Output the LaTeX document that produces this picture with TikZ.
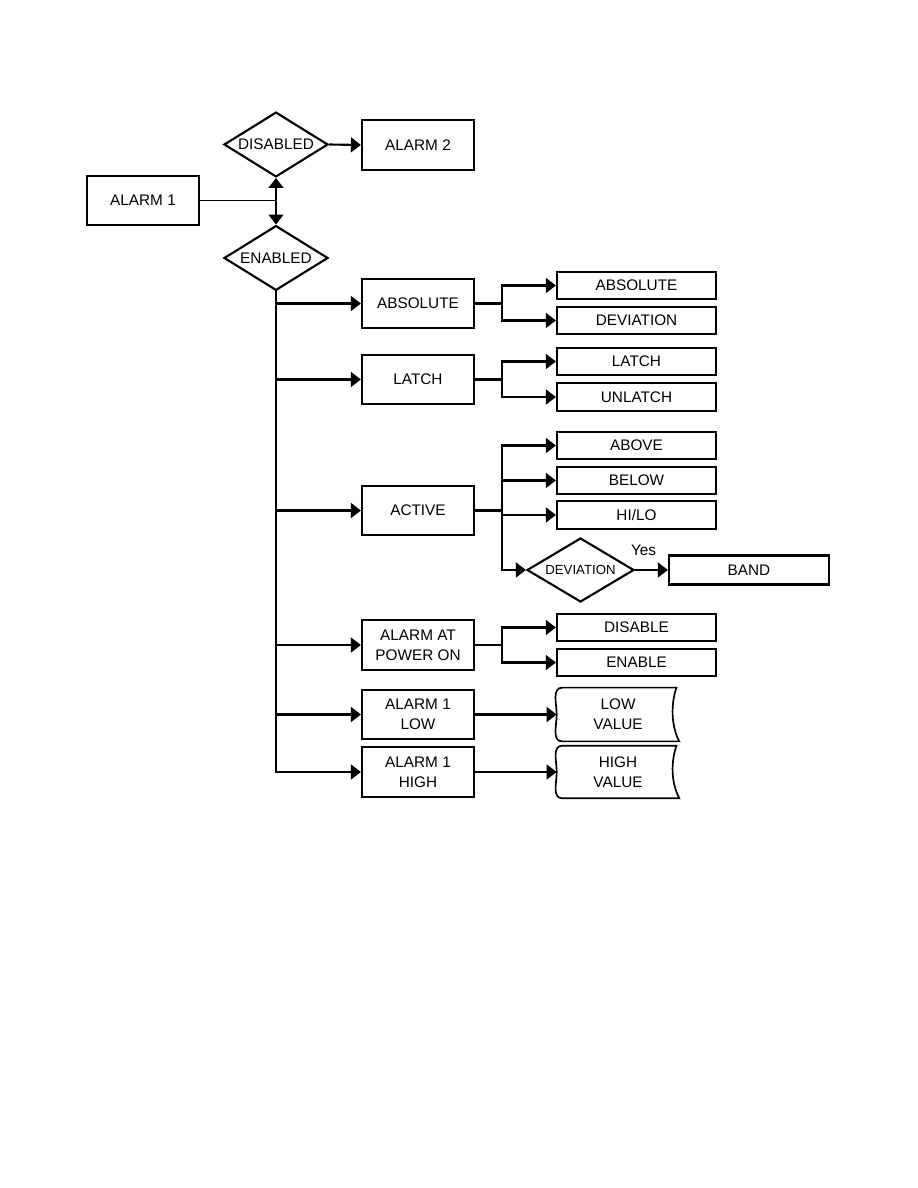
\documentclass[tikz,border=0pt]{standalone}
\usepackage{fontspec}
\setmainfont{Liberation Sans}
\usetikzlibrary{shapes.geometric,arrows.meta}

\begin{document}
\begin{tikzpicture}[x=0.025cm, y=-0.025cm,
    font=\fontsize{10.9}{14}\selectfont,
    box/.style={draw, line width=1.5pt, minimum width=2.8cm, minimum height=1.24cm, inner sep=0pt, align=center},
    opt/.style={draw, line width=1.5pt, minimum width=3.975cm, minimum height=0.69cm, inner sep=0pt},
    dia/.style={draw, diamond, aspect=1.6, line width=1.5pt, inner sep=0pt, minimum width=2.6cm, minimum height=1.62cm},
    store/.style={minimum width=3.05cm, minimum height=1.33cm, inner sep=0pt, align=center},
    arr/.style={line width=1.5pt, -{Triangle[length=2.5mm, width=3.7mm]}}]
    \useasboundingbox (0,0) rectangle (918,1188);

    % top part
    \node[box] (alarm1) at (143,200.5) {ALARM 1};
    \node[dia] (disabled) at (276,144.5) {DISABLED};
    \node[dia] (enabled) at (276,258) {ENABLED};
    \node[box] (alarm2) at (418,145) {ALARM 2};
    \coordinate (jn) at (alarm1.east -| disabled.south);
    \draw[line width=0.6pt] (alarm1.east) -- (jn);
    \draw[arr] (jn) -- (disabled.south);
    \draw[arr] (jn) -- (enabled.north);
    \draw[arr] (disabled.east) -- (alarm2.west);

    % second column
    \node[box] (absmode) at (418,303.5) {ABSOLUTE};
    \node[box] (latchmode) at (418,379.5) {LATCH};
    \node[box] (active) at (418,510.5) {ACTIVE};
    \node[box] (poweron) at (418,645) {ALARM AT\\POWER ON};
    \node[box] (alow) at (418,714.5) {ALARM 1\\LOW};
    \node[box] (ahigh) at (418,772) {ALARM 1\\HIGH};
    \foreach \m in {absmode, latchmode, active, poweron, alow, ahigh}
      \draw[arr] (enabled.south) |- (\m.west);

    % third column
    \node[opt] (absabs) at (636.5,285.5) {ABSOLUTE};
    \node[opt] (absdev) at (636.5,320.5) {DEVIATION};
    \node[opt] (latch) at (636.5,361.5) {LATCH};
    \node[opt] (unlatch) at (636.5,397) {UNLATCH};
    \node[opt] (above) at (636.5,445.5) {ABOVE};
    \node[opt] (below) at (636.5,480.5) {BELOW};
    \node[opt] (hilo) at (636.5,515) {HI/LO};
    \node[dia, minimum width=2.675cm, minimum height=1.6cm, font=\fontsize{9.4}{11}\selectfont] (devdia) at (580.5,570) {DEVIATION};
    \node[opt, minimum width=4cm, minimum height=0.725cm] (band) at (749,570) {BAND};
    \node[opt] (disable) at (636.5,627.5) {DISABLE};
    \node[opt] (enable) at (636.5,662.5) {ENABLE};
    \foreach \src/\dst in {absmode/absabs, absmode/absdev, latchmode/latch, latchmode/unlatch,
        active/above, active/below, active/hilo, active/devdia, poweron/disable, poweron/enable}
      \draw[arr] (\src.east) -- ++(27,0) |- (\dst.west);
    \draw[arr] (devdia.east) -- node[pos=0.26, above=6pt] {Yes} (band.west);

    % value entries
    \node[store] (lowv) at (618,714.5) {LOW\\VALUE};
    \node[store, minimum height=1.3cm] (highv) at (618,772) {HIGH\\VALUE};
    \foreach \v in {lowv, highv}
      \draw[line width=1.2pt] ([xshift=4pt]\v.north west) -- ([xshift=-2pt]\v.north east)
        .. controls ([xshift=-6pt, yshift=-0.4cm]\v.north east) and ([xshift=-6pt, yshift=0.4cm]\v.south east) .. (\v.south east)
        -- ([xshift=4pt]\v.south west) to[out=180, in=-90] (\v.west) to[out=90, in=180] cycle;
    \draw[arr] (alow.east) -- (lowv.west);
    \draw[arr] (ahigh.east) -- (highv.west);
\end{tikzpicture}
\end{document}
